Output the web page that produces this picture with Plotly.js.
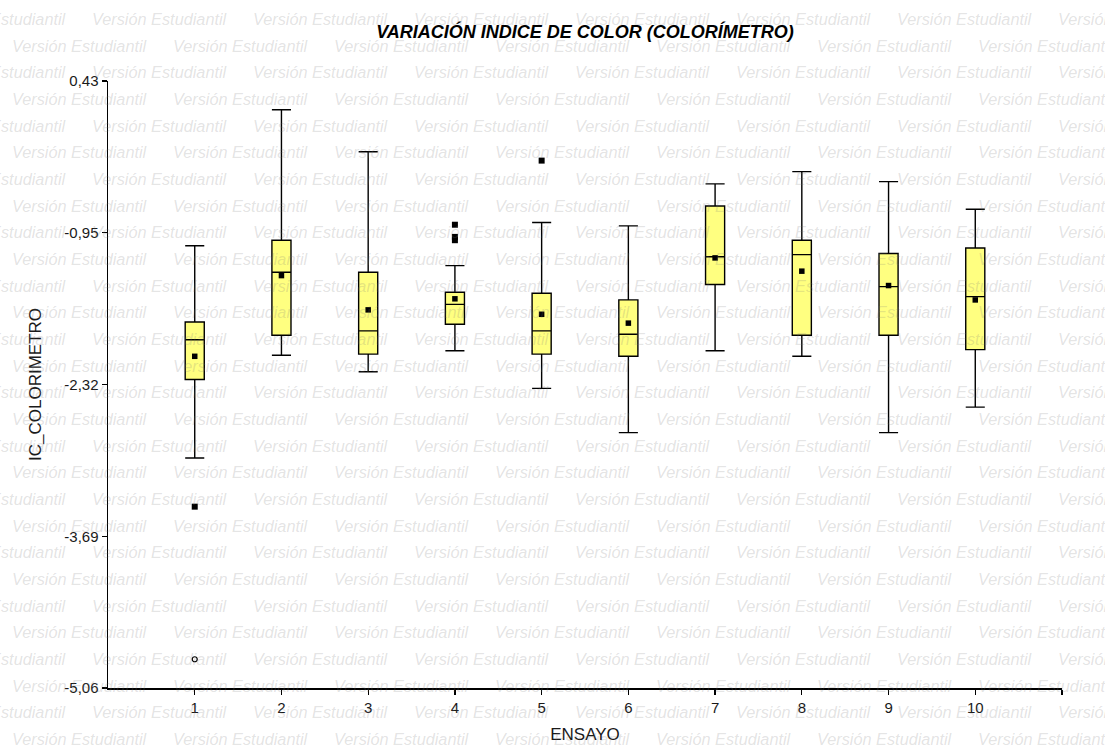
<!DOCTYPE html>
<html>
<head>
<meta charset="utf-8">
<script src="https://cdn.plot.ly/plotly-3.0.1.min.js"></script>
<style>
  html, body { margin: 0; padding: 0; background: #ffffff; }
  #wrap { position: relative; width: 1105px; height: 751px; overflow: hidden; }
  #chart { position: absolute; left: 0; top: 0; width: 1105px; height: 751px; }
  #wm { position: absolute; left: 0; top: 0; width: 1105px; height: 751px; pointer-events: none; }
  #wm span { position: absolute; white-space: nowrap; font-family: Arial, "Liberation Sans", sans-serif;
             font-style: italic; font-size: 16.3px; line-height: 20px; color: rgba(120,120,120,0.21); }
</style>
</head>
<body>
<div id="wrap">
  <div id="chart"></div>
  <div id="wm"></div>
</div>
<script>
// ---- data ----
const ensayo   = [1, 2, 3, 4, 5, 6, 7, 8, 9, 10];
const q1       = [-2.27, -1.87, -2.04, -1.77, -2.04, -2.06, -1.41, -1.87, -1.87, -2.00];
const mediana  = [-1.91, -1.30, -1.83, -1.59, -1.83, -1.86, -1.16, -1.14, -1.43, -1.52];
const q3       = [-1.75, -1.01, -1.30, -1.48, -1.49, -1.55, -0.70, -1.01, -1.13, -1.08];
const minimo   = [-2.98, -2.05, -2.20, -2.01, -2.35, -2.75, -2.01, -2.06, -2.75, -2.52];
const maximo   = [-1.06, 0.17, -0.21, -1.24, -0.85, -0.88, -0.50, -0.39, -0.48, -0.73];
const media    = [-2.06, -1.33, -1.64, -1.54, -1.68, -1.76, -1.17, -1.29, -1.42, -1.55];
const outX     = [1, 4, 4, 4, 5];
const outY     = [-3.42, -0.87, -0.98, -1.01, -0.29];
const extX     = [1];
const extY     = [-4.80];
const yTickVals = [0.43, -0.9425, -2.315, -3.6875, -5.06];
const yTickText = ['0,43', '-0,95', '-2,32', '-3,69', '-5,06'];
const xTickVals = [1, 2, 3, 4, 5, 6, 7, 8, 9, 10, 11];
const xTickText = ['1', '2', '3', '4', '5', '6', '7', '8', '9', '10', ''];

const boxTrace = {
  type: 'box',
  x: ensayo,
  q1: q1, median: mediana, q3: q3,
  lowerfence: minimo, upperfence: maximo,
  width: 0.22,
  whiskerwidth: 1,
  fillcolor: '#ffff80',
  line: { color: '#000000', width: 1.4 },
  boxpoints: false,
  hoverinfo: 'skip',
  showlegend: false
};
const meanTrace = {
  type: 'scatter', mode: 'markers', x: ensayo, y: media,
  marker: { symbol: 'square', size: 5.5, color: '#000000' },
  showlegend: false, hoverinfo: 'skip'
};
const outTrace = {
  type: 'scatter', mode: 'markers', x: outX, y: outY,
  marker: { symbol: 'square', size: 6, color: '#000000' },
  showlegend: false, hoverinfo: 'skip'
};
const extTrace = {
  type: 'scatter', mode: 'markers', x: extX, y: extY,
  marker: { symbol: 'circle-open', size: 5, color: '#000000', line: { width: 1.2, color: '#000000' } },
  showlegend: false, hoverinfo: 'skip'
};

const font = 'Arial, "Liberation Sans", sans-serif';
const layout = {
  width: 1105, height: 751,
  margin: { l: 108, r: 43, t: 81, b: 63 },
  paper_bgcolor: '#ffffff', plot_bgcolor: 'rgba(0,0,0,0)',
  showlegend: false,
  title: {
    text: 'VARIACIÓN INDICE DE COLOR (COLORÍMETRO)',
    font: { family: font, size: 18, color: '#000000', weight: 'bold', style: 'italic' },
    x: 0.5, xref: 'paper', xanchor: 'center',
    y: 1 - 32 / 751, yref: 'container', yanchor: 'middle'
  },
  xaxis: {
    range: [0, 11], tickvals: xTickVals, ticktext: xTickText,
    showline: true, linecolor: '#000000', linewidth: 1.5,
    ticks: 'outside', ticklen: 5, tickcolor: '#000000', tickwidth: 1.3,
    showgrid: false, zeroline: false,
    tickfont: { family: font, size: 15, color: '#1a1a1a' },
    title: { text: 'ENSAYO', font: { family: font, size: 17, color: '#1a1a1a' }, standoff: 13 }
  },
  yaxis: {
    range: [-5.06, 0.43], tickvals: yTickVals, ticktext: yTickText,
    showline: true, linecolor: '#000000', linewidth: 1.5,
    ticks: 'outside', ticklen: 5, tickcolor: '#000000', tickwidth: 1.3,
    showgrid: false, zeroline: false,
    tickfont: { family: font, size: 15, color: '#1a1a1a' },
    title: { text: 'IC_COLORIMETRO', font: { family: font, size: 17, color: '#1a1a1a' }, standoff: 18 }
  }
};

Plotly.newPlot('chart', [boxTrace, meanTrace, outTrace, extTrace], layout, { staticPlot: true, displayModeBar: false });

// ---- "Versión Estudiantil" watermark ----
const wm = document.getElementById('wm');
const rows = 28, rowStep = 26.67, rowTop = 19, period = 161;
for (let k = 0; k < rows; k++) {
  const yc = rowTop + k * rowStep;
  let x0 = (k % 2 === 0) ? -69 : 12;
  for (let x = x0; x < 1105; x += period) {
    const s = document.createElement('span');
    s.textContent = 'Versión Estudiantil';
    s.style.left = x + 'px';
    s.style.top = (yc - 10) + 'px';
    wm.appendChild(s);
  }
}
</script>
</body>
</html>
